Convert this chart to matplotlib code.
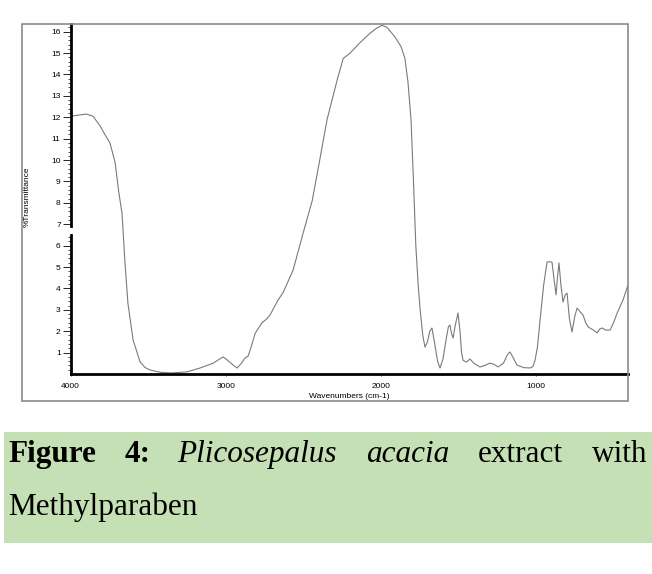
import matplotlib
matplotlib.use("Agg")
import matplotlib.pyplot as plt
import matplotlib.patches as mpatches
import matplotlib.transforms as mtrans
import numpy as np

# spectrum (wavenumber cm-1, %T)
wavenumber = [4000, 3950, 3900, 3856, 3811, 3780, 3747, 3714, 3690, 3669, 3650, 3631,
              3598, 3553, 3520, 3489, 3424, 3350, 3250, 3166, 3083, 3040, 3018, 2990,
              2950, 2927, 2900, 2876, 2856, 2835, 2811, 2766, 2740, 2715, 2690, 2663,
              2631, 2566, 2501, 2443, 2392, 2347, 2315, 2280, 2243, 2199, 2140, 2070,
              2030, 1993, 1960, 1909, 1870, 1845, 1825, 1806, 1790, 1775, 1760, 1748,
              1730, 1716, 1700, 1685, 1671, 1655, 1635, 1619, 1600, 1580, 1565, 1555,
              1545, 1535, 1520, 1503, 1490, 1480, 1471, 1450, 1426, 1400, 1361, 1330,
              1297, 1270, 1245, 1210, 1185, 1168, 1150, 1123, 1080, 1039, 1020, 1006,
              990, 974, 950, 929, 915, 897, 885, 871, 862, 852, 840, 826, 812, 800,
              785, 768, 750, 735, 715, 697, 680, 664, 632, 606, 590, 574, 550, 522,
              500, 477, 439, 407]
transmittance = [12.05, 12.1, 12.15, 12.05, 11.6, 11.2, 10.8, 9.9, 8.5, 7.5, 5.2, 3.3,
                 1.6, 0.57, 0.3, 0.19, 0.08, 0.05, 0.1, 0.28, 0.5, 0.7, 0.8, 0.65,
                 0.4, 0.28, 0.5, 0.75, 0.84, 1.3, 1.9, 2.4, 2.55, 2.75, 3.1, 3.46,
                 3.8, 4.86, 6.6, 8.1, 10.1, 11.9, 12.8, 13.8, 14.75, 15.0, 15.45, 15.93,
                 16.15, 16.3, 16.2, 15.75, 15.3, 14.75, 13.6, 11.9, 9.0, 6.0, 4.2, 3.08,
                 1.8, 1.26, 1.5, 2.0, 2.15, 1.5, 0.6, 0.28, 0.7, 1.6, 2.2, 2.29,
                 1.9, 1.68, 2.3, 2.85, 2.0, 1.0, 0.65, 0.55, 0.7, 0.5, 0.33, 0.4,
                 0.51, 0.45, 0.33, 0.5, 0.9, 1.03, 0.8, 0.42, 0.3, 0.28, 0.35, 0.65,
                 1.3, 2.52, 4.2, 5.23, 5.25, 5.23, 4.5, 3.7, 4.5, 5.19, 4.2, 3.36, 3.7, 3.78,
                 2.6, 1.96, 2.7, 3.08, 2.9, 2.76, 2.4, 2.2, 2.06, 1.92, 2.1, 2.15, 2.05, 2.06,
                 2.4, 2.85, 3.46, 4.16]

y_ticks = list(range(1, 17))
x_ticks = [4000, 3000, 2000, 1000]

W, H = 652, 574
fig = plt.figure(figsize=(W / 100, H / 100), dpi=100)


def fx(px):
    return px / W


def fy(py):
    return 1 - py / H


# outer frame of the scanned spectrum
fig.patches.append(mpatches.Rectangle((fx(21.7), fy(401)), fx(628) - fx(21.7), fy(24) - fy(401),
                                      transform=fig.transFigure, fill=False,
                                      edgecolor="#8a8a8a", lw=1.2))

ax = fig.add_axes([fx(70.7), fy(374), fx(628) - fx(70.7), fy(24) - fy(374)])
ax.plot(wavenumber, transmittance, color="#7a7a7a", lw=0.8)
ax.set_xlim(4000, 407)
ax.set_ylim(0, 16.36)

for s in ["top", "right", "left"]:
    ax.spines[s].set_visible(False)
ax.spines["bottom"].set_linewidth(2)
ax.spines["bottom"].set_color("black")

# broken left axis
tr = mtrans.blended_transform_factory(ax.transAxes, ax.transData)
ax.plot([0, 0], [0, 6.5], color="black", lw=2, transform=tr, clip_on=False)
ax.plot([0, 0], [6.9, 16.36], color="black", lw=2, transform=tr, clip_on=False)

ax.set_yticks(y_ticks)
minor_y = [v / 5 for v in range(1, 82) if v % 5 and not (32 < v < 35)]
ax.set_yticks(minor_y, minor=True)
ax.set_xticks(x_ticks)
ax.set_xticks(range(500, 4000, 100), minor=True)

ax.tick_params(axis="y", which="major", length=5.8, width=0.6, pad=1.4, labelsize=6)
ax.tick_params(axis="y", which="minor", length=2.5, width=0.5)
ax.tick_params(axis="x", which="major", length=1.5, width=0.5, pad=5, labelsize=6)
ax.tick_params(axis="x", which="minor", length=1, width=0.4)
for lab in ax.get_xticklabels() + ax.get_yticklabels():
    lab.set_family("Liberation Sans")

fig.text(fx(349), fy(396), "Wavenumbers (cm-1)", ha="center", va="center",
         fontsize=6, family="Liberation Sans")
fig.text(fx(27), fy(197), "%Transmittance", ha="center", va="center", rotation=90,
         fontsize=6, family="Liberation Sans")

# caption box
fig.patches.append(mpatches.Rectangle((fx(4), fy(543)), fx(652) - fx(4), fy(432) - fy(543),
                                      transform=fig.transFigure, facecolor="#c5e0b4",
                                      edgecolor="none"))

cap = dict(fontsize=22.5, family="Liberation Serif", va="baseline", ha="left")
fig.text(fx(8), fy(462), "Figure", weight="bold", **cap)
fig.text(fx(125), fy(462), "4:", weight="bold", **cap)
fig.text(fx(177), fy(462), "Plicosepalus", style="italic", **cap)
fig.text(fx(366), fy(462), "acacia", style="italic", **cap)
fig.text(fx(478), fy(462), "extract", **cap)
fig.text(fx(592), fy(462), "with", **cap)
fig.text(fx(8), fy(515), "Methylparaben", **cap)

fig.savefig("out.png", dpi=100)
